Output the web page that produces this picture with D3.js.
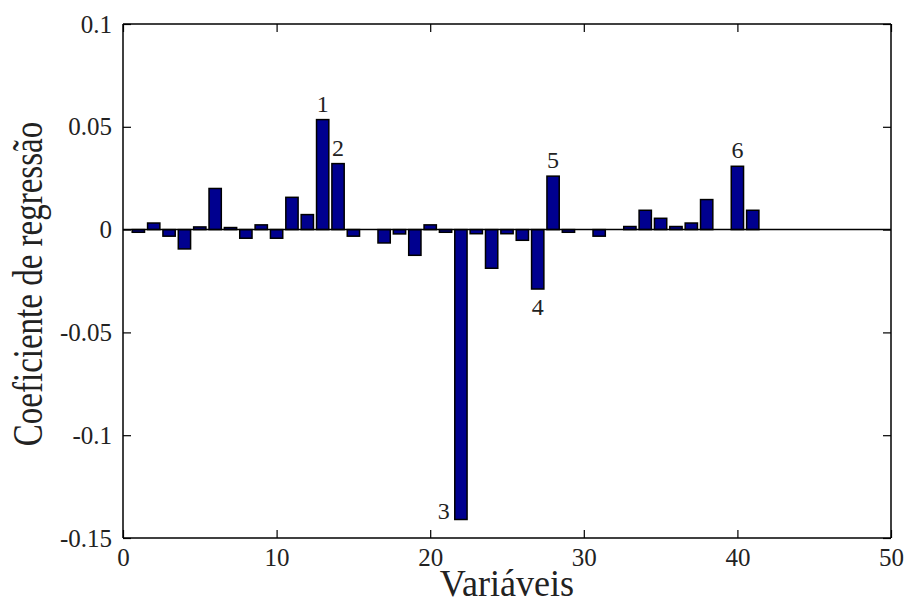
<!DOCTYPE html>
<html>
<head>
<meta charset="utf-8">
<script src="https://cdn.jsdelivr.net/npm/d3@7"></script>
<style>
  html, body { margin: 0; padding: 0; background: #fff; }
  svg text { font-family: "Liberation Serif", "Times New Roman", serif; fill: #222; }
</style>
</head>
<body>
<svg id="chart" width="906" height="605"></svg>
<script>
// Regression coefficient for each variable (1..41)
const variables = d3.range(1, 42);
const coefficients = [
  -0.0013, 0.0032, -0.0032, -0.0094, 0.0013, 0.0200, 0.0010, -0.0042, 0.0023, -0.0042,
   0.0157, 0.0073, 0.0535, 0.0321, -0.0032, 0.0000, -0.0065, -0.0021, -0.0125, 0.0023,
  -0.0013, -0.1410, -0.0020, -0.0188, -0.0020, -0.0052, -0.0289, 0.0260, -0.0013, 0.0000,
  -0.0032, 0.0000, 0.0015, 0.0094, 0.0055, 0.0015, 0.0032, 0.0146, 0.0000, 0.0308,
   0.0094
];

// Highlighted variables and their numbering
const markedVariables = [13, 14, 22, 27, 28, 40];
const markedLabels = ["1", "2", "3", "4", "5", "6"];

// Axis ticks
const xTickValues = [0, 10, 20, 30, 40, 50];
const xTickLabels = ["0", "10", "20", "30", "40", "50"];
const yTickValues = [0.1, 0.05, 0, -0.05, -0.1, -0.15];
const yTickLabels = ["0.1", "0.05", "0", "-0.05", "-0.1", "-0.15"];

const xTitle = "Variáveis";
const yTitle = "Coeficiente de regressão";

const svg = d3.select("#chart");
const margin = { left: 123, right: 15, top: 24, bottom: 67 };
const W = 906, H = 605;

const x = d3.scaleLinear().domain([0, 50]).range([margin.left, W - margin.right]);
const y = d3.scaleLinear().domain([-0.15, 0.1]).range([H - margin.bottom, margin.top]);
const barW = x(0.8) - x(0);

const data = variables.map((v, i) => ({ v, c: coefficients[i] }));

// Bars
svg.append("g").selectAll("rect")
  .data(data.filter(d => d.c !== 0))
  .join("rect")
  .attr("x", d => x(d.v) - barW / 2)
  .attr("width", barW)
  .attr("y", d => y(Math.max(0, d.c)))
  .attr("height", d => Math.abs(y(d.c) - y(0)))
  .attr("fill", "#00008f")
  .attr("stroke", "#000")
  .attr("stroke-width", 1.5);

// Zero line
svg.append("line")
  .attr("x1", x(0)).attr("x2", x(50))
  .attr("y1", y(0)).attr("y2", y(0))
  .attr("stroke", "#000").attr("stroke-width", 1.5);

// Axes with inward ticks on all sides
const tick = 8;
const xBottom = d3.axisBottom(x).tickValues(xTickValues).tickSize(-tick)
  .tickFormat((d, i) => xTickLabels[i]).tickPadding(tick + 2);
const xTop = d3.axisTop(x).tickValues(xTickValues).tickSize(-tick).tickFormat("");
const yLeft = d3.axisLeft(y).tickValues(yTickValues).tickSize(-tick)
  .tickFormat((d, i) => yTickLabels[i]).tickPadding(tick + 3);
const yRight = d3.axisRight(y).tickValues(yTickValues).tickSize(-tick).tickFormat("");

function style(g) {
  g.select(".domain").attr("stroke", "#000").attr("stroke-width", 1.5);
  g.selectAll(".tick line").attr("stroke", "#000").attr("stroke-width", 1.2);
  g.selectAll(".tick text").style("font-size", "25px")
    .style("font-family", "'Liberation Serif', serif").attr("fill", "#222");
}

svg.append("g").attr("transform", `translate(0,${y(-0.15)})`).call(xBottom).call(style)
  .call(g => g.select(".domain").attr("d", `M${x(0)},0H${x(50)}`));
svg.append("g").attr("transform", `translate(0,${y(0.1)})`).call(xTop).call(style)
  .call(g => g.select(".domain").attr("d", `M${x(0)},0H${x(50)}`));
svg.append("g").attr("transform", `translate(${x(0)},0)`).call(yLeft).call(style)
  .call(g => g.select(".domain").attr("d", `M0,${y(0.1)}V${y(-0.15)}`));
svg.append("g").attr("transform", `translate(${x(50)},0)`).call(yRight).call(style)
  .call(g => g.select(".domain").attr("d", `M0,${y(0.1)}V${y(-0.15)}`));

// Numbered labels on the highlighted bars
const labelSize = 24;
markedVariables.forEach((v, i) => {
  const c = coefficients[variables.indexOf(v)];
  const t = svg.append("text").text(markedLabels[i]).style("font-size", labelSize + "px");
  if (c >= 0) {
    t.attr("x", x(v)).attr("y", y(c) - 8).attr("text-anchor", "middle");
  } else if (y(c) > y(-0.12)) {
    // bar reaching the bottom: label sits beside it
    t.attr("x", x(v) - barW / 2 - 5).attr("y", y(c)).attr("text-anchor", "end");
  } else {
    t.attr("x", x(v)).attr("y", y(c) + 26).attr("text-anchor", "middle");
  }
});

// Axis titles
svg.append("text")
  .attr("transform", `translate(${(x(0) + x(50)) / 2},596) scale(0.95,1)`)
  .attr("text-anchor", "middle")
  .style("font-size", "38px")
  .text(xTitle);

svg.append("text")
  .attr("transform", `translate(42,${(y(0.1) + y(-0.15)) / 2 + 3}) rotate(-90) scale(1,1.3)`)
  .attr("text-anchor", "middle")
  .style("font-size", "33px")
  .text(yTitle);
</script>
</body>
</html>
